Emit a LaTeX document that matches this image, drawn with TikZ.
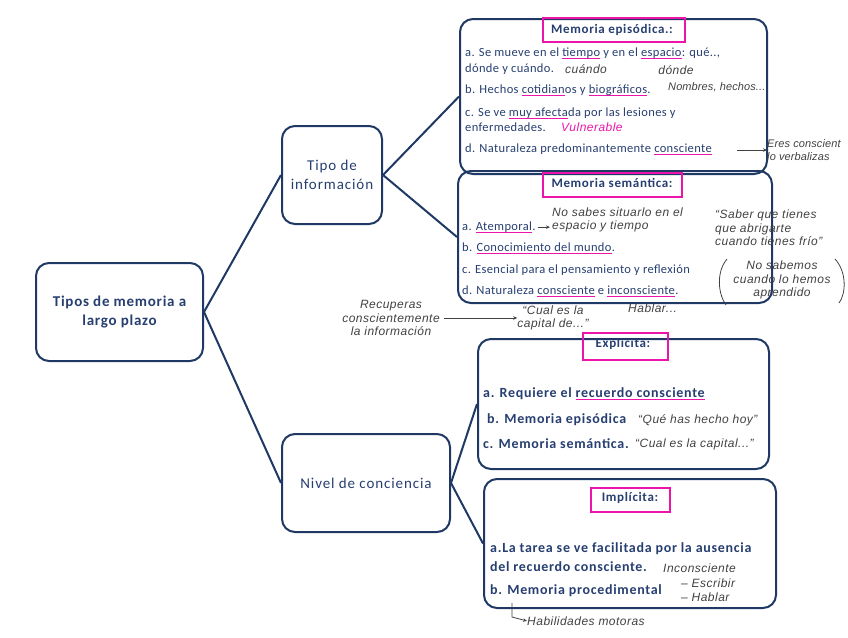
\documentclass[tikz,border=0pt]{standalone}
\usepackage{fontspec}
\setmainfont{Carlito}
\newfontfamily\cA{Carlito}[LetterSpace=2.8]
\newfontfamily\cB{Carlito}[LetterSpace=5]
\newfontfamily\cC{Carlito}[LetterSpace=6]
\newfontfamily\handfont{Liberation Sans}[LetterSpace=4]
\newfontfamily\handsm{Liberation Sans}[LetterSpace=1]
\usetikzlibrary{arrows.meta}
\definecolor{navy}{RGB}{31,56,100}
\definecolor{tblue}{RGB}{38,62,112}
\definecolor{mag}{RGB}{236,20,170}
\definecolor{hgray}{RGB}{65,65,65}
\newsavebox\mgbox
\newcommand\mgu[1]{\sbox\mgbox{#1}\rlap{\color{mag}\rule[-3pt]{\wd\mgbox}{1pt}}#1}
\begin{document}
\begin{tikzpicture}[x=1pt,y=-1pt,
  bigbox/.style={draw=navy,line width=2pt,rounded corners=13pt,anchor=north west,inner sep=0pt,text=tblue,align=center},
  conn/.style={draw=navy,line width=2pt},
  txt/.style={text=tblue,font=\cA\fontsize{12.5}{15}\selectfont,anchor=base west,inner sep=0pt},
  txtb/.style={text=tblue,font=\cB\fontsize{14}{17}\selectfont\bfseries,anchor=base west,inner sep=0pt},
  ttl/.style={text=tblue,font=\cB\fontsize{13}{15}\selectfont\bfseries,inner sep=0pt},
  magbox/.style={draw=mag,line width=1.1pt,inner sep=0pt},
  hand/.style={text=hgray,font=\handfont\itshape\fontsize{12}{13.5}\selectfont,inner sep=0pt},
  handsmall/.style={text=hgray,font=\handsm\itshape\fontsize{11}{13.5}\selectfont,inner sep=0pt},
  handm/.style={hand,text=mag},
  harrow/.style={draw=hgray,line width=0.8pt,-{Stealth[length=4pt,width=3.5pt]}}]
\useasboundingbox (0,0) rectangle (848,637);

% main hierarchy
\node[bigbox,minimum width=167,minimum height=98,font=\cB\fontsize{15}{19}\selectfont\bfseries] (main) at (35,262) {Tipos de memoria a\\largo plazo};
\node[bigbox,minimum width=100,minimum height=98,font=\cC\fontsize{15}{19}\selectfont] (tipo) at (281,125) {Tipo de\\información};
\node[bigbox,minimum width=168,minimum height=98,font=\cC\fontsize{15}{19}\selectfont] (nivel) at (281,433) {Nivel de conciencia};

% second level boxes
\node[bigbox,minimum width=307,minimum height=155] (epi) at (459,18) {};
\node[bigbox,minimum width=314,minimum height=132] (sem) at (457,170) {};
\node[bigbox,minimum width=291,minimum height=130] (expl) at (477,338) {};
\node[bigbox,minimum width=292,minimum height=129] (impl) at (483,478) {};

\draw[conn] (main.east) -- (tipo.west);
\draw[conn] (main.east) -- (nivel.west);
\draw[conn] (tipo.east) -- (epi.west);
\draw[conn] (tipo.east) -- (sem.west);
\draw[conn] (nivel.east) -- (expl.west);
\draw[conn] (nivel.east) -- (impl.west);

% titles
\node[magbox,minimum width=142,minimum height=24] (epit) at (614,30) {};
\node[ttl] (epitx) at (612,30) {Memoria episódica.:};
\node[magbox,minimum width=139,minimum height=24] (semt) at (612.5,185) {};
\node[ttl] (semtx) at (612,183) {Memoria semántica:};
\node[magbox,minimum width=85,minimum height=27] (explt) at (625.5,346.5) {};
\begin{scope}
\clip (477,339) rectangle (768,468);
\node[ttl] (expltx) at (623,344) {Explícita:};
\end{scope}
\node[magbox,minimum width=79,minimum height=24] (implt) at (630.5,500) {};
\node[ttl] (impltx) at (630,498) {Implícita:};

% episodic items
\node[txt] (e1) at (465,56) {a. Se mueve en el \mgu{tiempo} y en el \mgu{espacio}: qué..,};
\node[txt] (e2) at (465,72) {dónde y cuándo.};
\node[txt] (e3) at (465,93) {b. Hechos \mgu{cotidian}os y \mgu{biográficos}.};
\node[txt] (e4) at (465,116) {c. Se ve \mgu{muy afecta}da por las lesiones y};
\node[txt] (e5) at (465,131) {enfermedades.};
\node[txt] (e6) at (465,152) {d. Naturaleza predominantemente \mgu{consciente}};

% semantic items
\node[txt] (s1) at (462,230) {a. \mgu{Atemporal}.};
\node[txt] (s2) at (462,251) {b. \mgu{Conocimiento del mundo}.};
\node[txt] (s3) at (462,273) {c. Esencial para el pensamiento y reflexión};
\node[txt] (s4) at (462,294) {d. Naturaleza \mgu{consciente} e \mgu{inconsciente}.};

% explicit items
\node[txtb] (x1) at (483,397) {a. Requiere el \mgu{recuerdo consciente}};
\node[txtb] (x2) at (487,423) {b. Memoria episódica};
\node[txtb] (x3) at (483,448) {c. Memoria semántica.};

% implicit items
\node[txtb] (i1) at (490,552) {a.La tarea se ve facilitada por la ausencia};
\node[txtb] (i2) at (490,571) {del recuerdo consciente.};
\node[txtb] (i3) at (490,594) {b. Memoria procedimental};

% handwritten notes
\node[hand] (hcuando) at (586,69) {cuándo};
\node[hand] (hdonde) at (676,70) {dónde};
\node[handsmall,anchor=west] (hnombres) at (668,87) {Nombres, hechos...};
\node[handm,anchor=west] (hvuln) at (561,127) {Vulnerable};
\coordinate (a1s) at (737,150);
\node[handsmall,anchor=west,align=left] (hconsc) at (767,150) {Eres conscient\\lo verbalizas};
\draw[harrow] (a1s) -- (hconsc.west);

\node[hand,anchor=west,align=left] (hsitua) at (552,220) {No sabes situarlo en el\\espacio y tiempo};
\draw[harrow] ([xshift=2pt]s1.east) -- ([xshift=-2pt]hsitua.west |- s1.east);
\node[hand,anchor=west,align=left] (hsaber) at (715,228) {“Saber que tienes\\que abrigarte\\cuando tienes frío”};
\node[hand,align=center] (hsabemos) at (782,280) {No sabemos\\cuando lo hemos\\aprendido};
\draw[hgray,line width=0.8pt] (727,259) .. controls (716,272) and (718,294) .. (726,305);
\draw[hgray,line width=0.8pt] (835,259) .. controls (847,272) and (846,294) .. (839,303);
\node[hand,anchor=west] (hhablar1) at (628,308) {Hablar...};

\node[hand,align=center] (hrecup) at (391,318) {Recuperas\\conscientemente\\la información};
\node[hand,align=center] (hcual1) at (553,318) {“Cual es la\\capital de...”};
\draw[harrow] (hrecup.east) ++(4,0) -- (hcual1.west);

\node[hand,anchor=west] (hque) at (638,420) {“Qué has hecho hoy”};
\node[hand,anchor=west] (hcual2) at (635,444) {“Cual es la capital...”};
\node[hand,anchor=west] (hincon) at (663,568) {Inconsciente};
\node[hand,anchor=west,align=left] (hescr) at (681,590) {– Escribir\\– Hablar};
\coordinate (hk) at (512,603);
\node[hand,anchor=west] (hhabil) at (527,621) {Habilidades motoras};
\draw[harrow] (hk) -- (512,617) -- (hhabil.west);
\end{tikzpicture}
\end{document}
